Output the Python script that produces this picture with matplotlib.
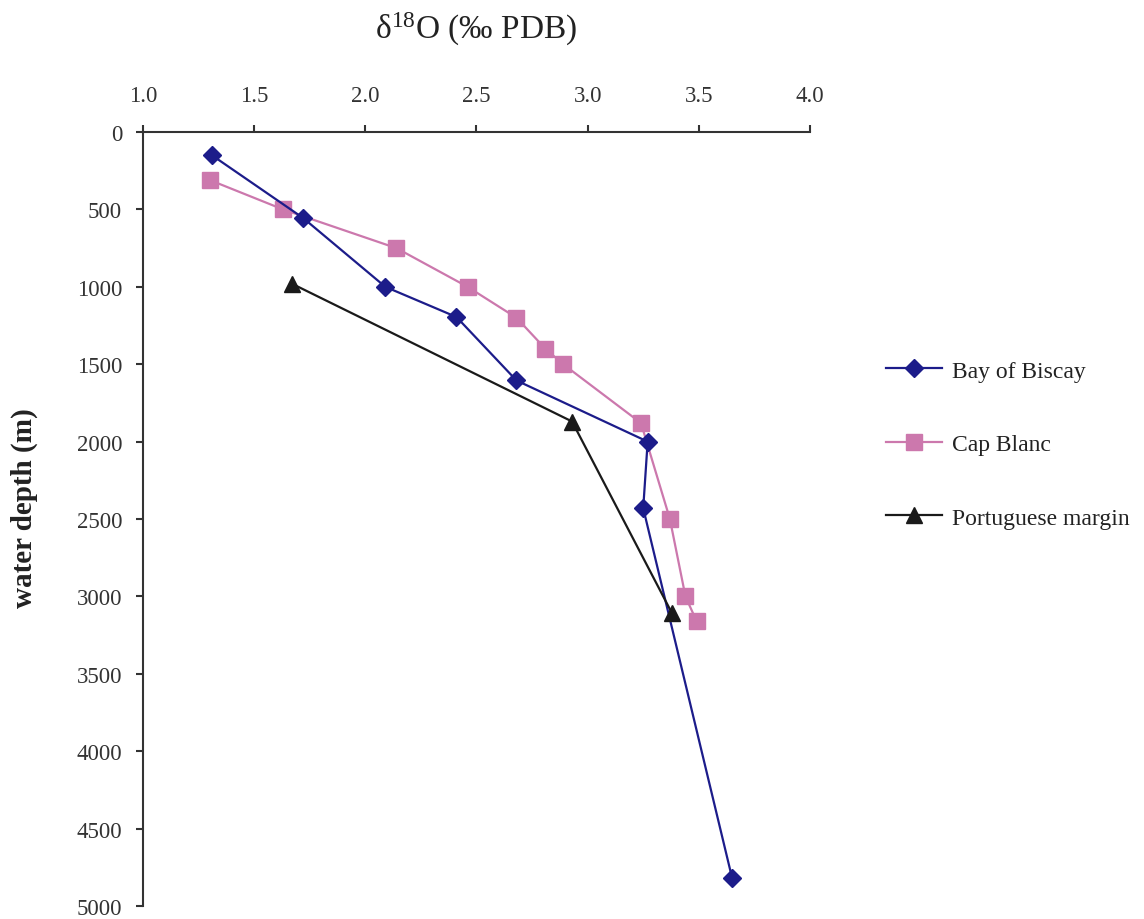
import matplotlib
matplotlib.use('Agg')
import matplotlib.pyplot as plt

plt.rcParams['font.family'] = ['Liberation Serif', 'DejaVu Serif']

# --- data ---
biscay_d18o = [1.31, 1.72, 2.09, 2.41, 2.68, 3.27, 3.25, 3.65]
biscay_depth = [150, 555, 1000, 1195, 1605, 2000, 2430, 4820]

capblanc_d18o = [1.30, 1.63, 2.14, 2.46, 2.68, 2.81, 2.89, 3.24, 3.37, 3.44, 3.49]
capblanc_depth = [310, 500, 750, 1000, 1200, 1400, 1500, 1880, 2500, 3000, 3160]

portugal_d18o = [1.67, 2.93, 3.38]
portugal_depth = [980, 1870, 3110]

x_ticks = [1.0, 1.5, 2.0, 2.5, 3.0, 3.5, 4.0]
y_ticks = [0, 500, 1000, 1500, 2000, 2500, 3000, 3500, 4000, 4500, 5000]

navy = '#1c1c8a'
pink = '#cc78ad'
black = '#1a1a1a'
axis_col = '#333333'

fig = plt.figure(figsize=(11.44, 9.2), dpi=100, facecolor='white')
ax = fig.add_axes([0.125, 0.0141, 0.583, 0.8413])

ax.plot(biscay_d18o, biscay_depth, color=navy, lw=1.6, marker='D', ms=9.5,
        mfc=navy, mec=navy, label='Bay of Biscay', zorder=3)
ax.plot(capblanc_d18o, capblanc_depth, color=pink, lw=1.6, marker='s', ms=11,
        mfc=pink, mec=pink, label='Cap Blanc', zorder=2)
ax.plot(portugal_d18o, portugal_depth, color=black, lw=1.6, marker='^', ms=11,
        mfc=black, mec=black, label='Portuguese margin', zorder=4)

ax.set_xlim(1.0, 4.0)
ax.set_ylim(5000, 0)
ax.set_xticks(x_ticks)
ax.set_xticklabels([f'{v:.1f}' for v in x_ticks])
ax.set_yticks(y_ticks)

ax.xaxis.tick_top()
ax.xaxis.set_label_position('top')
ax.spines['right'].set_visible(False)
ax.spines['bottom'].set_visible(False)
for s in ['left', 'top']:
    ax.spines[s].set_color(axis_col)
    ax.spines[s].set_linewidth(1.5)
ax.tick_params(axis='both', direction='out', length=5, width=1.5,
               color=axis_col, labelcolor='#333333', labelsize=16.5)
ax.tick_params(axis='x', pad=14)
ax.tick_params(axis='y', pad=10)

ax.set_xlabel(r'$\mathregular{\delta^{18}O}$ (‰ PDB)', fontsize=24,
              labelpad=34, color='#222222')
ax.set_ylabel('water depth (m)', fontsize=21, fontweight='bold',
              color='#222222')
ax.yaxis.set_label_coords(-0.157, 0.515)

leg = ax.legend(loc='center left', bbox_to_anchor=(0.764, 0.516),
                bbox_transform=fig.transFigure, frameon=False, fontsize=17,
                handlelength=2.4, handletextpad=0.4, labelspacing=2.2,
                borderpad=0)
for t in leg.get_texts():
    t.set_color('#222222')

plt.savefig('out.png', dpi=100, facecolor='white')
